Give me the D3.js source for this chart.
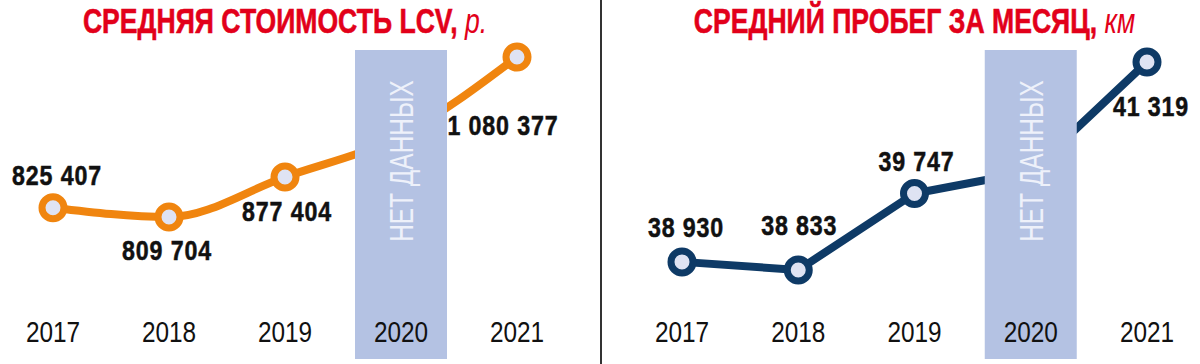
<!DOCTYPE html>
<html>
<head>
<meta charset="utf-8">
<script src="https://cdnjs.cloudflare.com/ajax/libs/d3/7.8.5/d3.min.js"></script>
<style>
  body { margin: 0; background: #fff; }
  text { font-family: "Liberation Sans", Arial, sans-serif; }
</style>
</head>
<body>
<svg id="chart" width="1200" height="364"></svg>
<script>
const YEARS = ["2017", "2018", "2019", "2020", "2021"]
const NO_DATA_YEAR = "2020"
const NO_DATA_TEXT = "НЕТ ДАННЫХ"

// 2020 is hidden under the "no data" band, value estimated from the line path
const priceValues = [825407, 809704, 877404, 948000, 1080377]
const mileageValues = [38930, 38833, 39747, 40010, 41319]

const priceTitle = "СРЕДНЯЯ СТОИМОСТЬ LCV"
const priceUnit = "р."
const mileageTitle = "СРЕДНИЙ ПРОБЕГ ЗА МЕСЯЦ"
const mileageUnit = "км"

const ruFormat = d3.formatLocale({decimal: ",", thousands: " ", grouping: [3]}).format(",d")

// no condensed font installed, so text is squeezed horizontally
const NARROW = 0.84

const svg = d3.select("#chart")

svg.append("line")
    .attr("x1", 601).attr("x2", 601)
    .attr("y1", 0).attr("y2", 364)
    .attr("stroke", "#333")
    .attr("stroke-width", 2)

const drawPanel = (cfg) => {
    const data = YEARS.map((year, i) => ({year: year, value: cfg.values[i]}))

    const xScale = d3.scalePoint()
        .domain(YEARS)
        .range(cfg.xRange)

    const yScale = d3.scaleLinear()
        .domain(d3.extent(data.filter(d => d.year !== NO_DATA_YEAR), d => d.value))
        .range(cfg.yRange)

    const g = svg.append("g")

    // Title
    const title = g.append("text")
        .attr("transform", `translate(${(cfg.xRange[0] + cfg.xRange[1]) / 2},33) scale(0.76,1)`)
        .attr("text-anchor", "middle")
        .attr("fill", "#e2001a")
        .style("font-size", "35px")
    title.append("tspan")
        .style("font-weight", "bold")
        .attr("stroke", "#e2001a")
        .attr("stroke-width", 0.6)
        .text(cfg.title + ",")
    title.append("tspan")
        .style("font-style", "italic")
        .text(" " + cfg.unit)

    // Line (drawn under the band)
    const line = d3.line()
        .x(d => xScale(d.year))
        .y(d => yScale(d.value))
        .curve(cfg.curve)

    g.append("path")
        .datum(data)
        .attr("d", line)
        .attr("fill", "none")
        .attr("stroke", cfg.color)
        .attr("stroke-width", 8)
        .attr("stroke-linejoin", "round")

    // No data band
    const bandW = 92
    g.append("rect")
        .attr("x", xScale(NO_DATA_YEAR) - bandW / 2)
        .attr("y", 50)
        .attr("width", bandW)
        .attr("height", 309)
        .attr("fill", "#b4c2e3")

    g.append("text")
        .attr("transform", `translate(${xScale(NO_DATA_YEAR) + 12},161) rotate(-90) scale(0.74,1)`)
        .attr("text-anchor", "middle")
        .attr("fill", "#eef1fa")
        .style("font-size", "33px")
        .text(NO_DATA_TEXT)

    // Year labels
    g.selectAll(".yearLabel")
        .data(YEARS)
        .join("text")
        .attr("class", "yearLabel")
        .attr("transform", d => `translate(${xScale(d)},342) scale(${NARROW},1)`)
        .attr("text-anchor", "middle")
        .attr("fill", "#111")
        .style("font-size", "29px")
        .text(d => d)

    const shown = data.filter(d => d.year !== NO_DATA_YEAR)

    // Markers
    g.selectAll(".marker")
        .data(shown)
        .join("circle")
        .attr("class", "marker")
        .attr("cx", d => xScale(d.year))
        .attr("cy", d => yScale(d.value))
        .attr("r", 11)
        .attr("fill", "#dfe3f3")
        .attr("stroke", cfg.color)
        .attr("stroke-width", 7)

    // Value labels
    g.selectAll(".valueLabel")
        .data(shown)
        .join("text")
        .attr("class", "valueLabel")
        .attr("transform", (d, i) => `translate(${xScale(d.year) + cfg.labelOffsets[i][0]},${yScale(d.value) + cfg.labelOffsets[i][1]}) scale(0.86,1)`)
        .attr("text-anchor", "middle")
        .attr("fill", "#111")
        .attr("stroke", "#111")
        .attr("stroke-width", 0.5)
        .style("font-size", "27px")
        .style("font-weight", "bold")
        .style("letter-spacing", "1px")
        .text(d => ruFormat(d.value))
}

drawPanel({
    values: priceValues,
    title: priceTitle,
    unit: priceUnit,
    color: "#f0850f",
    xRange: [53, 517],
    yRange: [217, 57],
    curve: d3.curveMonotoneX,
    labelOffsets: [[4, -23], [-2, 43], [2, 44], [-14, 78]]
})

drawPanel({
    values: mileageValues,
    title: mileageTitle,
    unit: mileageUnit,
    color: "#0e3a66",
    xRange: [682, 1147],
    yRange: [270, 62],
    curve: d3.curveLinear,
    labelOffsets: [[4, -25], [1, -35], [2, -23], [4, 54]]
})
</script>
</body>
</html>
